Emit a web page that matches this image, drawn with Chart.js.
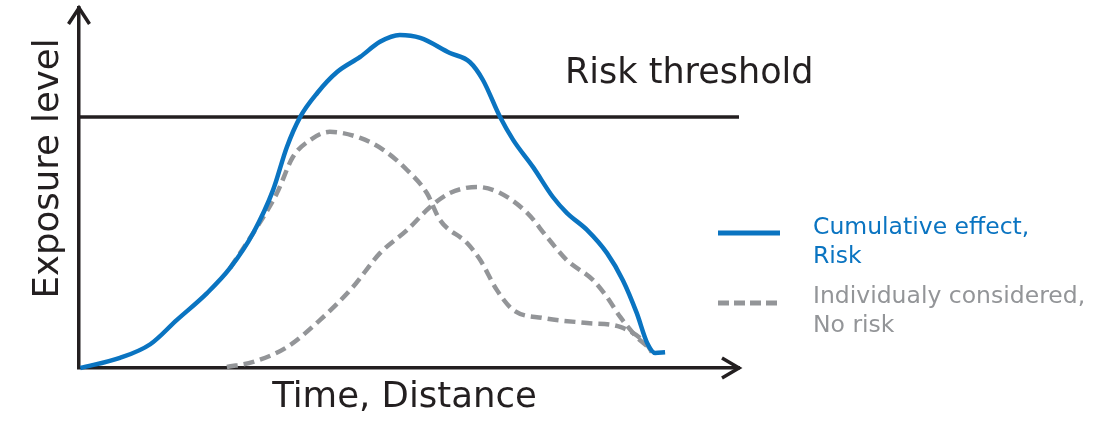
<!DOCTYPE html>
<html>
<head>
<meta charset="utf-8">
<script src="https://cdn.jsdelivr.net/npm/chart.js@4"></script>
<style>
  html, body { margin: 0; padding: 0; background: #ffffff; }
  #wrap { position: relative; width: 1094px; height: 421px; }
</style>
</head>
<body>
<div id="wrap"><canvas id="c" width="1094" height="421"></canvas></div>
<script>
// ---- data (x: time/distance 0..100, y: exposure 0..100) ----
const cumulativeX = [0.2, 6.2, 10.8, 14.8, 19.4, 22.9, 26.4, 29.4, 31.5, 33.5, 36.1, 39.1, 42.6, 45.6, 48.6, 51.7, 56.2, 59.2, 61.2, 63.8, 65.8, 68.8, 71.8, 73.9, 77.0, 80.0, 82.4, 84.5, 86.1, 87.3, 88.8];
const cumulativeY = [0, 2.8, 6.6, 13.3, 20.8, 27.8, 37.5, 49.4, 61.4, 69.7, 76.4, 82.2, 86.4, 90.6, 92.5, 91.7, 87.5, 85.0, 80.0, 69.7, 63.3, 55.8, 47.5, 43.1, 38.3, 31.9, 24.4, 15.3, 6.9, 4.2, 4.4];

const source1X = [22.9, 26.4, 30.0, 32.4, 35.0, 38.0, 42.6, 46.1, 49.7, 52.7, 54.7, 58.8, 60.8, 63.3, 65.8, 70.3, 77.0, 82.0, 86.1, 86.8];
const source1Y = [27.8, 37.5, 48.6, 58.6, 63.3, 65.6, 63.9, 60.6, 55.0, 48.6, 41.1, 34.7, 30.0, 21.7, 16.1, 13.9, 12.5, 11.4, 6.4, 4.4];

const source2X = [22.4, 26.4, 31.5, 36.5, 41.5, 45.6, 49.7, 53.2, 56.2, 60.3, 63.8, 67.9, 70.9, 73.9, 77.9, 80.0, 82.0, 84.5, 86.2, 86.8];
const source2Y = [0.3, 1.7, 5.8, 13.3, 22.5, 31.9, 38.3, 44.7, 48.6, 50.3, 48.6, 43.1, 36.4, 30.0, 24.4, 19.7, 14.2, 8.6, 5.8, 4.4];

const thresholdLevel = 69.7;
const thresholdX = [0, 100];

const xTitle = "Time, Distance";
const yTitle = "Exposure level";
const thresholdLabel = "Risk threshold";
const legendCumulative = ["Cumulative effect,", "Risk"];
const legendIndividual = ["Individualy considered,", "No risk"];

// ---- styles ----
const BLUE = "#0a74c1";
const GRAY = "#939598";
const INK = "#231f20";
const FONT = "'DejaVu Sans', sans-serif";

const pts = (xs, ys) => xs.map((x, i) => ({ x: x, y: ys[i] }));

const decor = {
  id: "decor",
  afterDraw(chart) {
    const ctx = chart.ctx;
    const xs = chart.scales.x, ys = chart.scales.y;
    const left = xs.left, right = xs.right, top = ys.top, bottom = ys.bottom;
    ctx.save();
    // arrow heads
    ctx.strokeStyle = INK;
    ctx.lineWidth = 3.5;
    ctx.lineCap = "butt";
    ctx.lineJoin = "miter";
    ctx.beginPath();
    ctx.moveTo(left - 10.5, top + 16);
    ctx.lineTo(left, top);
    ctx.lineTo(left + 10.5, top + 16);
    ctx.stroke();
    ctx.beginPath();
    ctx.moveTo(right - 17, bottom - 10);
    ctx.lineTo(right, bottom);
    ctx.lineTo(right - 17, bottom + 10);
    ctx.stroke();

    // axis titles
    ctx.fillStyle = INK;
    ctx.font = "35.5px " + FONT;
    ctx.textAlign = "center";
    ctx.textBaseline = "alphabetic";
    ctx.fillText(xTitle, 404.5, 407);
    ctx.save();
    ctx.translate(58, 168.5);
    ctx.rotate(-Math.PI / 2);
    ctx.fillText(yTitle, 0, 0);
    ctx.restore();

    // threshold label
    ctx.font = "35px " + FONT;
    ctx.textAlign = "left";
    ctx.fillText(thresholdLabel, 565, 83);

    // legend
    ctx.lineWidth = 5;
    ctx.strokeStyle = BLUE;
    ctx.beginPath();
    ctx.moveTo(718, 233);
    ctx.lineTo(780, 233);
    ctx.stroke();
    ctx.strokeStyle = GRAY;
    ctx.setLineDash([11, 5]);
    ctx.beginPath();
    ctx.moveTo(718, 303);
    ctx.lineTo(777, 303);
    ctx.stroke();
    ctx.setLineDash([]);

    ctx.font = "23.5px " + FONT;
    ctx.fillStyle = BLUE;
    ctx.fillText(legendCumulative[0], 813, 234);
    ctx.fillText(legendCumulative[1], 813, 263);
    ctx.fillStyle = GRAY;
    ctx.fillText(legendIndividual[0], 813, 303);
    ctx.fillText(legendIndividual[1], 813, 332);
    ctx.restore();
  }
};

new Chart(document.getElementById("c"), {
  type: "line",
  data: {
    datasets: [
      {
        label: legendCumulative.join(" "),
        data: pts(cumulativeX, cumulativeY),
        borderColor: BLUE,
        borderWidth: 4.5,
        pointRadius: 0,
        cubicInterpolationMode: "monotone",
        fill: false,
        clip: false
      },
      {
        label: thresholdLabel,
        data: pts(thresholdX, thresholdX.map(() => thresholdLevel)),
        borderColor: INK,
        borderWidth: 3.5,
        pointRadius: 0,
        fill: false,
        clip: false
      },
      {
        label: legendIndividual.join(" ") + " 1",
        data: pts(source1X, source1Y),
        borderColor: GRAY,
        borderWidth: 4.5,
        borderDash: [11, 6],
        pointRadius: 0,
        cubicInterpolationMode: "monotone",
        fill: false,
        clip: false
      },
      {
        label: legendIndividual.join(" ") + " 2",
        data: pts(source2X, source2Y),
        borderColor: GRAY,
        borderWidth: 4.5,
        borderDash: [11, 6],
        pointRadius: 0,
        cubicInterpolationMode: "monotone",
        fill: false,
        clip: false
      }
    ]
  },
  options: {
    responsive: false,
    animation: false,
    devicePixelRatio: 1,
    layout: { padding: { left: 79, right: 355, top: 8, bottom: 53 } },
    plugins: { legend: { display: false }, tooltip: { enabled: false } },
    scales: {
      x: {
        type: "linear", min: 0, max: 100,
        grid: { display: false, drawTicks: false },
        ticks: { display: false },
        border: { display: true, color: INK, width: 3.5 }
      },
      y: {
        type: "linear", min: 0, max: 100,
        grid: { display: false, drawTicks: false },
        ticks: { display: false },
        border: { display: true, color: INK, width: 3.5 }
      }
    }
  },
  plugins: [decor]
});
</script>
</body>
</html>
